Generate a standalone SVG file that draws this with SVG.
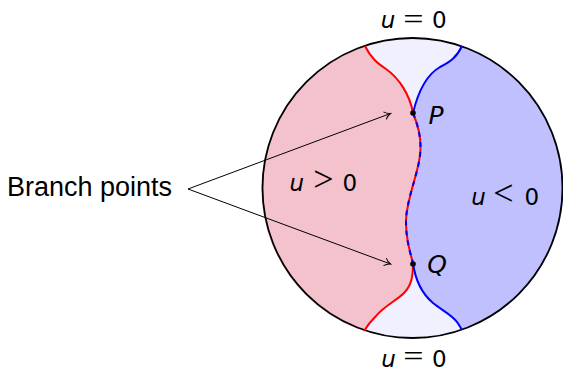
<svg xmlns="http://www.w3.org/2000/svg" width="563" height="371" viewBox="0 0 563 371">
<defs>
<style>
.lbl{font-family:"Liberation Sans","DejaVu Sans",sans-serif;font-size:27px;fill:#000}
.m{font-family:"DejaVu Sans","Liberation Sans",sans-serif;font-size:23px;fill:#000;text-anchor:middle}
.r{font-family:"Liberation Serif","DejaVu Serif",serif;font-size:36px}
.eq{font-family:"Liberation Serif","DejaVu Serif",serif;font-size:30px;fill:#000;text-anchor:middle}
.it{font-style:italic}
.arrow{stroke:#000;stroke-width:1;fill:none;marker-end:url(#to)}
.red{stroke:#ff0000;stroke-width:2;fill:none}
.blue{stroke:#0000ff;stroke-width:2;fill:none}
</style>
<marker id="to" viewBox="-7 -5 9 10" markerWidth="9" markerHeight="10" refX="0" refY="0" orient="auto" markerUnits="userSpaceOnUse">
<path d="M-6,-4 C-4,-1.6 -1.5,-0.4 0,0 C-1.5,0.4 -4,1.6 -6,4" fill="none" stroke="#000" stroke-width="1"/>
</marker>
</defs>
<g id="disk">
<circle cx="412.5" cy="188" r="150" fill="#f0f0fe"/>
<path id="region-pos" d="M365,46 C371,58 377,63 386,69 C399,78 410,95 413,113 C418,125 422,140 420,155 C418,175 406,200 406,222 C406,240 410,252 413,263 C413,275 412,285 404,293 C396,301 384,306 376,316 C371,321 367,326 364,331 A150,150 0 0 1 365,46 Z" fill="#f4c2cc"/>
<path id="region-neg" d="M462,46 C457,57 450,62 440,67 C426,75 418,92 413,113 C418,125 422,140 420,155 C418,175 406,200 406,222 C406,240 410,252 413,263 C415,278 420,292 433,303 C443,311 452,315 457,322 C459,325 461,328 462,330 A150,150 0 0 0 462,46 Z" fill="#c0c0fe"/>
<circle cx="412.5" cy="188" r="150" fill="none" stroke="#000" stroke-width="1.8"/>
</g>
<g id="curves">
<path class="red" d="M365,46 C371,58 377,63 386,69 C399,78 410,95 413,113"/>
<path class="blue" d="M462,46 C457,57 450,62 440,67 C426,75 418,92 413,113"/>
<path class="red" d="M413,113 C418,125 422,140 420,155 C418,175 406,200 406,222 C406,240 410,252 413,263"/>
<path class="blue" stroke-dasharray="5 5" d="M413,113 C418,125 422,140 420,155 C418,175 406,200 406,222 C406,240 410,252 413,263"/>
<path class="red" d="M413,263 C413,275 412,285 404,293 C396,301 384,306 376,316 C371,321 367,326 364,331"/>
<path class="blue" d="M413,263 C415,278 420,292 433,303 C443,311 452,315 457,322 C459,325 461,328 462,330"/>
</g>
<g id="points">
<circle cx="413" cy="113" r="2.8" fill="#000"/>
<circle cx="413" cy="264" r="2.8" fill="#000"/>
<text class="m it" x="436" y="124" style="font-size:25px">P</text>
<text class="m it" x="437" y="273" style="font-size:25px">Q</text>
</g>
<g id="connectors">
<path class="arrow" d="M188,189 L390.5,113.5"/>
<path class="arrow" d="M188,189 L390.5,264"/>
</g>
<g id="label-branch">
<text class="lbl" x="7" y="196">Branch points</text>
</g>
<g id="label-top">
<text class="m"><tspan class="it" x="388" y="28">u</tspan><tspan x="439.2" y="28">0</tspan></text>
<text class="eq" transform="translate(413.3,29.3) scale(1.2,1)">=</text>
</g>
<g id="label-bottom">
<text class="m"><tspan class="it" x="388.5" y="366.5">u</tspan><tspan x="439.2" y="366.5">0</tspan></text>
<text class="eq" transform="translate(413.3,365.5) scale(1.2,1)">=</text>
</g>
<g id="label-pos">
<text class="m"><tspan class="it" x="296.7" y="191">u</tspan><tspan class="r" x="323.3" y="191">&gt;</tspan><tspan x="349.7" y="191">0</tspan></text>
</g>
<g id="label-neg">
<text class="m"><tspan class="it" x="478.5" y="205">u</tspan><tspan class="r" x="503.3" y="205">&lt;</tspan><tspan x="531.7" y="205">0</tspan></text>
</g>
</svg>
